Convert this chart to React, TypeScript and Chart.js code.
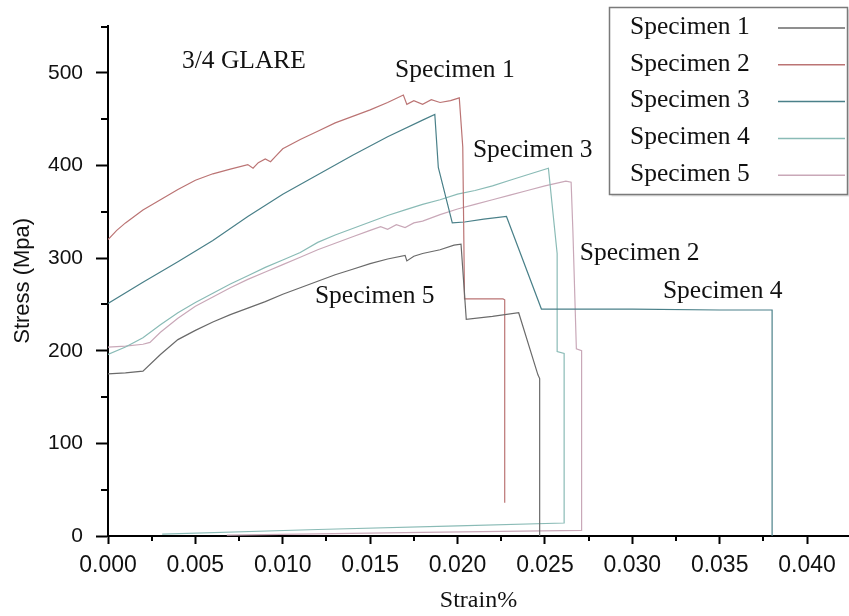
import React, { useEffect, useRef } from 'react';
import { Chart, registerables } from 'chart.js';

Chart.register(...registerables);

// ---- Data ----
const seriesLabels = ['Specimen 1', 'Specimen 2', 'Specimen 3', 'Specimen 4', 'Specimen 5'];

// Specimen 1 (dark grey, lowest curve)
const spec1Strain = [0, 0.001, 0.002, 0.003, 0.004, 0.005, 0.006, 0.007, 0.008, 0.009, 0.010, 0.011, 0.012, 0.013, 0.014, 0.015, 0.016, 0.017, 0.0171, 0.0175, 0.018, 0.019, 0.0198, 0.0202, 0.0205, 0.022, 0.0235, 0.0246, 0.0247, 0.0247];
const spec1Stress = [175, 176, 178, 196, 212, 222, 231, 239, 246, 253, 261, 268, 275, 282, 288, 294, 299, 303, 297, 302, 305, 309, 314, 315, 234, 237, 241, 174, 170, 0];

// Specimen 2 (red, highest curve)
const spec2Strain = [0, 0.0005, 0.001, 0.0015, 0.002, 0.003, 0.004, 0.005, 0.006, 0.007, 0.008, 0.0083, 0.0086, 0.009, 0.0093, 0.0096, 0.010, 0.011, 0.012, 0.013, 0.014, 0.015, 0.016, 0.0169, 0.0171, 0.0175, 0.018, 0.0185, 0.019, 0.0196, 0.0201, 0.0203, 0.0204, 0.0226, 0.0227, 0.0227];
const spec2Stress = [320, 330, 338, 345, 352, 363, 374, 384, 391, 396, 401, 397, 403, 407, 404, 410, 418, 428, 437, 446, 453, 460, 468, 476, 466, 470, 466, 471, 468, 470, 473, 420, 256, 256, 255, 36];

// Specimen 3 (dark teal)
const spec3Strain = [0, 0.002, 0.004, 0.006, 0.008, 0.010, 0.012, 0.014, 0.016, 0.018, 0.0187, 0.0189, 0.0197, 0.0204, 0.0215, 0.0228, 0.0248, 0.030, 0.035, 0.0380, 0.0380];
const spec3Stress = [251, 274, 296, 319, 345, 369, 390, 411, 431, 449, 455, 398, 338, 339, 342, 345, 245, 245, 244, 244, 0];

// Specimen 4 (light teal)
const spec4Strain = [0, 0.001, 0.002, 0.003, 0.004, 0.005, 0.006, 0.007, 0.008, 0.009, 0.010, 0.011, 0.012, 0.013, 0.014, 0.015, 0.016, 0.017, 0.018, 0.019, 0.020, 0.021, 0.022, 0.023, 0.024, 0.0252, 0.0254, 0.0257, 0.0257, 0.0261, 0.0261, 0.020, 0.012, 0.0031];
const spec4Stress = [196, 204, 214, 228, 241, 252, 262, 272, 281, 290, 298, 306, 317, 325, 332, 339, 346, 352, 358, 363, 369, 373, 378, 384, 390, 397, 360, 305, 199, 197, 14, 11, 7, 2];

// Specimen 5 (mauve)
const spec5Strain = [0, 0.001, 0.002, 0.0024, 0.003, 0.004, 0.005, 0.006, 0.007, 0.008, 0.009, 0.010, 0.011, 0.012, 0.013, 0.014, 0.015, 0.0156, 0.016, 0.0165, 0.017, 0.0175, 0.018, 0.019, 0.020, 0.021, 0.022, 0.023, 0.024, 0.025, 0.0262, 0.0265, 0.0266, 0.0268, 0.0271, 0.0271, 0.018, 0.0068];
const spec5Stress = [204, 205, 207, 209, 220, 235, 248, 258, 268, 277, 285, 293, 301, 309, 316, 323, 330, 334, 331, 336, 333, 338, 340, 347, 353, 358, 363, 368, 373, 378, 383, 382, 330, 202, 200, 6, 4, 1];

// In-chart text labels, anchored in data coordinates (strain, stress) = left/baseline
const noteTexts = ['3/4 GLARE', 'Specimen 1', 'Specimen 3', 'Specimen 2', 'Specimen 4', 'Specimen 5'];
const noteStrain = [0.00423, 0.01642, 0.02088, 0.0270, 0.03175, 0.01184];
const noteStress = [505, 495.5, 409, 298, 257, 252];

// ---- Styles ----
const seriesColors = ['#6a6a6a', '#bb7474', '#4a8089', '#8abbb6', '#c9a8b8'];
const SERIF = "'Liberation Serif', 'Times New Roman', serif";
const SANS = "'Liberation Sans', Arial, sans-serif";

const toPoints = (xs: number[], ys: number[]) => xs.map((x, i) => ({ x, y: ys[i] }));

const overlayPlugin = {
  id: 'overlay',
  afterDraw(chart: any) {
    const ctx = chart.ctx as CanvasRenderingContext2D;
    const xs = chart.scales.x;
    const ys = chart.scales.y;
    ctx.save();
    // minor ticks
    ctx.strokeStyle = '#000';
    ctx.lineWidth = 2;
    ctx.beginPath();
    for (let v = 0.0025; v < xs.max; v += 0.005) {
      const px = Math.round(xs.getPixelForValue(v));
      ctx.moveTo(px, xs.top);
      ctx.lineTo(px, xs.top + 5);
    }
    for (let v = 50; v <= ys.max; v += 100) {
      const py = Math.round(ys.getPixelForValue(v));
      ctx.moveTo(ys.right, py);
      ctx.lineTo(ys.right - 7, py);
    }
    ctx.stroke();

    // in-chart notes
    ctx.fillStyle = '#111';
    ctx.font = `25.5px ${SERIF}`;
    ctx.textAlign = 'left';
    ctx.textBaseline = 'alphabetic';
    noteTexts.forEach((t, i) => {
      ctx.fillText(t, xs.getPixelForValue(noteStrain[i]), ys.getPixelForValue(noteStress[i]));
    });

    // legend box
    const bx = 609.5, by = 7.5, bw = 238, bh = 187;
    ctx.fillStyle = 'rgba(0,0,0,0.12)';
    ctx.fillRect(bx + 2, by + 2, bw, bh);
    ctx.fillStyle = '#fff';
    ctx.fillRect(bx, by, bw, bh);
    ctx.strokeStyle = '#7a7a7a';
    ctx.lineWidth = 1.5;
    ctx.strokeRect(bx, by, bw, bh);
    ctx.font = `25.5px ${SERIF}`;
    ctx.textBaseline = 'middle';
    chart.data.datasets.forEach((ds: any, i: number) => {
      const cy = 27 + i * 36.8;
      ctx.fillStyle = '#111';
      ctx.fillText(ds.label, 630, cy);
      ctx.strokeStyle = ds.borderColor;
      ctx.lineWidth = 1.5;
      ctx.beginPath();
      ctx.moveTo(778, cy + 1);
      ctx.lineTo(845, cy + 1);
      ctx.stroke();
    });
    ctx.restore();
  },
};

export default function App() {
  const ref = useRef<HTMLCanvasElement>(null);
  useEffect(() => {
    const canvas = ref.current as HTMLCanvasElement;
    const strains = [spec1Strain, spec2Strain, spec3Strain, spec4Strain, spec5Strain];
    const stresses = [spec1Stress, spec2Stress, spec3Stress, spec4Stress, spec5Stress];
    const chart = new Chart(canvas, {
      type: 'line',
      data: {
        datasets: seriesLabels.map((label, i) => ({
          label,
          data: toPoints(strains[i], stresses[i]),
          borderColor: seriesColors[i],
          backgroundColor: seriesColors[i],
          borderWidth: 1.2,
          pointRadius: 0,
          fill: false,
          tension: 0,
        })),
      },
      options: {
        animation: false,
        responsive: false,
        devicePixelRatio: 1,
        layout: { padding: { top: 20, left: 0, right: 0, bottom: 0 } },
        plugins: { legend: { display: false }, tooltip: { enabled: false } },
        scales: {
          x: {
            type: 'linear',
            min: 0,
            max: 0.0424,
            border: { display: true, color: '#000', width: 2 },
            grid: { display: true, drawOnChartArea: false, drawTicks: true, tickLength: 8, tickWidth: 2, tickColor: '#000' },
            ticks: {
              stepSize: 0.005,
              includeBounds: false,
              autoSkip: false,
              maxRotation: 0,
              padding: 8,
              color: '#111',
              font: { family: SANS, size: 23 },
              callback: (v: any) => Number(v).toFixed(3),
            },
            title: { display: true, text: 'Strain%', color: '#111', font: { family: SERIF, size: 24 }, padding: { top: 0, bottom: 1 } },
            afterFit: (s: any) => { s.height = 80; },
          },
          y: {
            type: 'linear',
            min: 0,
            max: 551,
            border: { display: true, color: '#000', width: 2 },
            grid: { display: true, drawOnChartArea: false, drawTicks: true, tickLength: 12, tickWidth: 2, tickColor: '#000' },
            ticks: {
              stepSize: 100,
              includeBounds: false,
              autoSkip: false,
              padding: 13,
              color: '#111',
              font: { family: SANS, size: 21 },
              callback: (v: any) => String(v),
            },
            title: { display: true, text: 'Stress (Mpa)', color: '#111', font: { family: SANS, size: 22 }, padding: { top: 10, bottom: 0 } },
            afterFit: (s: any) => { s.width = 108; },
          },
        },
      },
      plugins: [overlayPlugin],
    });
    return () => chart.destroy();
  }, []);
  return (
    <div style={{ position: 'fixed', left: 0, top: 0, width: 849, height: 616, background: '#fff' }}>
      <canvas ref={ref} width={849} height={616} style={{ display: 'block', width: 849, height: 616 }} />
    </div>
  );
}
